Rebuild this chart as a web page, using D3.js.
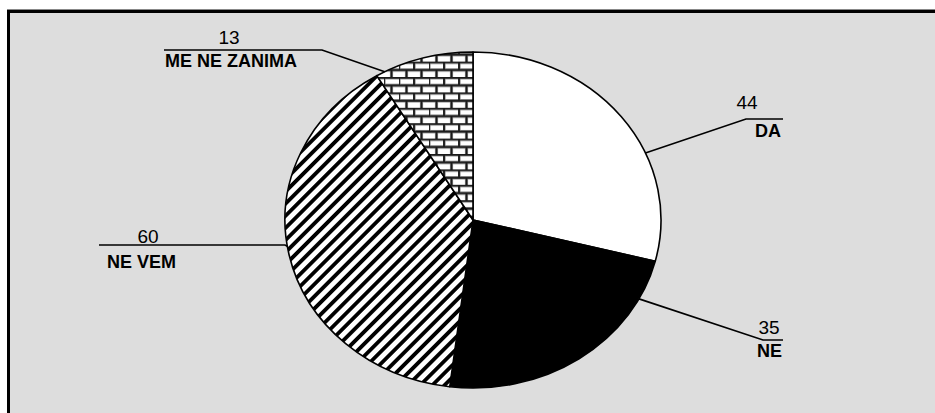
<!DOCTYPE html>
<html><head><meta charset="utf-8">
<script src="https://cdn.jsdelivr.net/npm/d3@7"></script>
<style>html,body{margin:0;padding:0;background:#fff;}svg{display:block;}</style>
</head><body>
<script>
// ---- data ----
const categories = ["DA", "NE", "NE VEM", "ME NE ZANIMA"];
const values = [44, 35, 60, 13];

// ---- layout (not data) ----
const W = 935, H = 413;
const cx = 473, cy = 220, rx = 188, ry = 168;
const fills = ["#ffffff", "#000000", "url(#stripes)", "url(#bricks)"];
// leader line start angle (degrees, clockwise from 12 o'clock), elbow, end, label anchors
const leaderAngle = [66.5, 118, 261, 332];
const leaderElbow = [[746, 119], [763, 340], [285, 245], [322, 50]];
const leaderEnd = [[783, 119], [783, 340], [99, 245], [164, 50]];
const valuePos = [[747, 109], [769, 334], [148, 243], [229, 44]];
const catPos = [[781, 137, "end"], [782, 357, "end"], [107, 268, "start"], [165, 67, "start"]];

const svg = d3.select("body").append("svg").attr("width", W).attr("height", H);
const defs = svg.append("defs");

// stripes pattern
const sp = defs.append("pattern").attr("id", "stripes").attr("patternUnits", "userSpaceOnUse")
  .attr("width", 8.6).attr("height", 8.6).attr("patternTransform", "rotate(45)");
sp.append("rect").attr("width", 8.6).attr("height", 8.6).attr("fill", "#fff");
sp.append("rect").attr("x", 0).attr("width", 3.8).attr("height", 8.6).attr("fill", "#000");

// bricks pattern
const bp = defs.append("pattern").attr("id", "bricks").attr("patternUnits", "userSpaceOnUse")
  .attr("width", 15).attr("height", 15.4).attr("x", cx).attr("y", 0);
bp.append("rect").attr("width", 15).attr("height", 15.4).attr("fill", "#fff");
const mortar = "M0,0.7H15 M0,8.4H15 M1,0.7V8.4 M8.5,8.4V15.4";
bp.append("path").attr("d", mortar).attr("stroke", "#8a8a8a").attr("stroke-width", 3.2).attr("fill", "none");
bp.append("path").attr("d", mortar).attr("stroke", "#1a1a1a").attr("stroke-width", 1.8).attr("fill", "none");

// background + frame
svg.append("rect").attr("x", 10).attr("y", 13).attr("width", W - 10).attr("height", H - 13).attr("fill", "#dddddd");
svg.append("rect").attr("x", 7).attr("y", 9).attr("width", W - 7).attr("height", 1).attr("fill", "#888");
svg.append("rect").attr("x", 7).attr("y", 10).attr("width", W - 7).attr("height", 3).attr("fill", "#000");
svg.append("rect").attr("x", 7).attr("y", 10).attr("width", 3).attr("height", H - 10).attr("fill", "#000");

// pie (elliptical)
const pie = d3.pie().sort(null).startAngle(0).endAngle(2 * Math.PI);
const arcs = pie(values);
const pt = a => [cx + rx * Math.sin(a), cy - ry * Math.cos(a)];
function wedge(d) {
  const [x0, y0] = pt(d.startAngle), [x1, y1] = pt(d.endAngle);
  const large = (d.endAngle - d.startAngle) > Math.PI ? 1 : 0;
  return `M${cx},${cy}L${x0},${y0}A${rx},${ry} 0 ${large} 1 ${x1},${y1}Z`;
}
svg.append("g").selectAll("path").data(arcs).join("path")
  .attr("d", wedge)
  .attr("fill", (d, i) => fills[i])
  .attr("stroke", "#000").attr("stroke-width", 1.6).attr("stroke-linejoin", "round");

// leader lines
const line = d3.line();
svg.append("g").selectAll("path").data(arcs).join("path")
  .attr("d", (d, i) => line([pt(leaderAngle[i] * Math.PI / 180), leaderElbow[i], leaderEnd[i]]))
  .attr("fill", "none").attr("stroke", "#000").attr("stroke-width", 1.6);

// labels
const font = "'Liberation Sans', Arial, sans-serif";
svg.append("g").selectAll("text").data(values).join("text")
  .attr("x", (d, i) => valuePos[i][0]).attr("y", (d, i) => valuePos[i][1])
  .attr("text-anchor", "middle").attr("font-family", font).attr("font-size", 19)
  .attr("fill", "#000").text(d => d);
svg.append("g").selectAll("text").data(categories).join("text")
  .attr("x", (d, i) => catPos[i][0]).attr("y", (d, i) => catPos[i][1])
  .attr("text-anchor", (d, i) => catPos[i][2]).attr("font-family", font).attr("font-size", 18)
  .attr("font-weight", "bold").attr("fill", "#000").text(d => d);
</script>
</body></html>
